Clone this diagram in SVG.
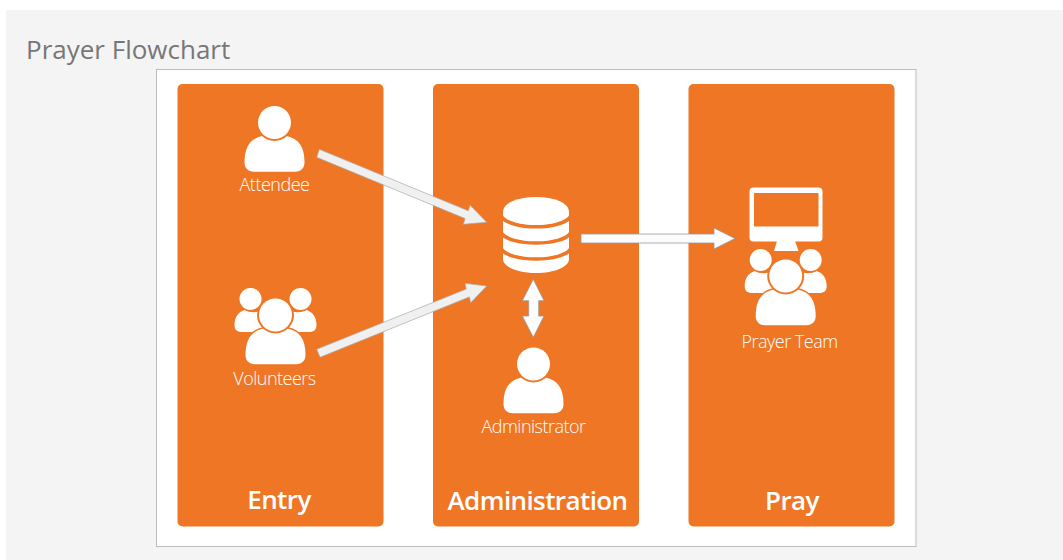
<svg xmlns="http://www.w3.org/2000/svg" xmlns:xlink="http://www.w3.org/1999/xlink" width="1063" height="560" viewBox="0 0 1063 560">
<style>
.panel{fill:#ee7624}
.w{fill:#fff}
.o{fill:#ee7624}
.body{fill:#fff;stroke:#ee7624;stroke-width:3;paint-order:stroke}
.lbl{font-family:"Open Sans","Liberation Sans",sans-serif;font-weight:300;font-size:18px;fill:#fff;text-anchor:middle;letter-spacing:-.5px}
.ttl{font-family:"Open Sans","Liberation Sans",sans-serif;font-weight:600;font-size:26px;fill:#fff;text-anchor:middle;letter-spacing:-.6px}
.arrow{fill:#f0f0f0;stroke:#a9a9a9;stroke-width:.7}
.arrow2{fill:#fcfcfc;stroke:#999;stroke-width:.8}
</style>
<defs>
<g id="person">
<path class="body" d="M-30,40 C-30,24 -24,16 -12,13.500 L12,13.500 C24,16 30,24 30,40 C30,46 26,49.200 21,49.200 L-21,49.200 C-26,49.200 -30,46 -30,40Z"/>
<circle class="o" r="18.500"/>
<circle class="w" r="16.500"/>
</g>
<g id="group">
<path class="w" d="M-41,10 C-41,2 -37,-3 -31,-5 C-25,-2 -18,-2 -14,-5 L-8,17 L-34,17 C-38,17 -41,15 -41,10Z"/>
<path class="w" d="M41,10 C41,2 37,-3 31,-5 C25,-2 18,-2 14,-5 L8,17 L34,17 C38,17 41,15 41,10Z"/>
<circle class="o" cx="-25" cy="-16" r="12.500"/>
<circle class="o" cx="25" cy="-16" r="12.500"/>
<circle class="w" cx="-25" cy="-16" r="11"/>
<circle class="w" cx="25" cy="-16" r="11"/>
<use xlink:href="#person" href="#person"/>
</g>
</defs>
<rect x="0" y="0" width="1063" height="560" fill="#fff"/>
<rect x="6" y="10" width="1057" height="550" fill="#f4f4f4"/>
<text x="26" y="59" font-family="'Open Sans','Liberation Sans',sans-serif" font-size="26" fill="#777">Prayer Flowchart</text>
<rect x="156.500" y="69.500" width="759.500" height="477" fill="#fff" stroke="#bdbdbd"/>
<g id="entry">
<rect class="panel" x="177.500" y="84" width="206" height="442.500" rx="5"/>
<text class="ttl" x="279" y="509">Entry</text>
</g>
<g id="administration">
<rect class="panel" x="433" y="84" width="206" height="442.500" rx="5"/>
<text class="ttl" x="537.500" y="510">Administration</text>
</g>
<g id="pray">
<rect class="panel" x="688.500" y="84" width="206" height="442.500" rx="5"/>
<text class="ttl" x="792" y="510">Pray</text>
</g>
<g id="attendee">
<use xlink:href="#person" href="#person" x="274.500" y="122.500"/>
<text class="lbl" x="274.500" y="191">Attendee</text>
</g>
<g id="volunteers">
<use xlink:href="#group" href="#group" x="275.500" y="315"/>
<text class="lbl" x="274.500" y="385">Volunteers</text>
</g>
<g id="administrator">
<use xlink:href="#person" href="#person" x="533.500" y="364"/>
<text class="lbl" x="533.500" y="433">Administrator</text>
</g>
<g id="database">
<path class="w" d="M503,212 L503,259 C503,267 518,273 536,273 C554,273 569,267 569,259 L569,212Z"/>
<path fill="none" stroke="#ee7624" stroke-width="3.600" d="M501,216 C505,223 520,226.800 536,226.800 C552,226.800 567,223 571,216 M501,232.500 C505,239.500 520,243 536,243 C552,243 567,239.500 571,232.500 M501,248.500 C505,255.500 520,259 536,259 C552,259 567,255.500 571,248.500"/>
<ellipse class="w" cx="536" cy="211" rx="33" ry="14"/>
</g>
<g id="prayer-team">
<rect class="w" x="749.500" y="187.500" width="73" height="54" rx="4"/>
<rect class="o" x="754" y="193" width="64.500" height="33.500"/>
<path class="w" d="M777,241 L795,241 L798.500,251 L774,251Z"/>
<use xlink:href="#group" href="#group" x="785.700" y="276"/>
<text class="lbl" x="789.500" y="348">Prayer Team</text>
</g>
<g id="connectors">
<polygon class="arrow" points="319.300,149.300 468.300,210.800 470,205 486.700,222.300 463.300,224.300 465.100,218.600 316.700,157.300"/>
<polygon class="arrow" points="316.700,349.300 466.200,289.100 465,283.300 486.700,286 470.700,302.700 469.400,296.900 320,357.300"/>
<polygon class="arrow2" points="581,234 714,234 714,228 735,238.500 714,249 714,243 581,243"/>
<polygon class="arrow2" points="533.300,279.300 544,300.700 538.700,300.700 538.700,316 544,316 533.300,337.300 522.300,316 528.700,316 528.700,300.700 522.300,300.700"/>
</g>
</svg>
